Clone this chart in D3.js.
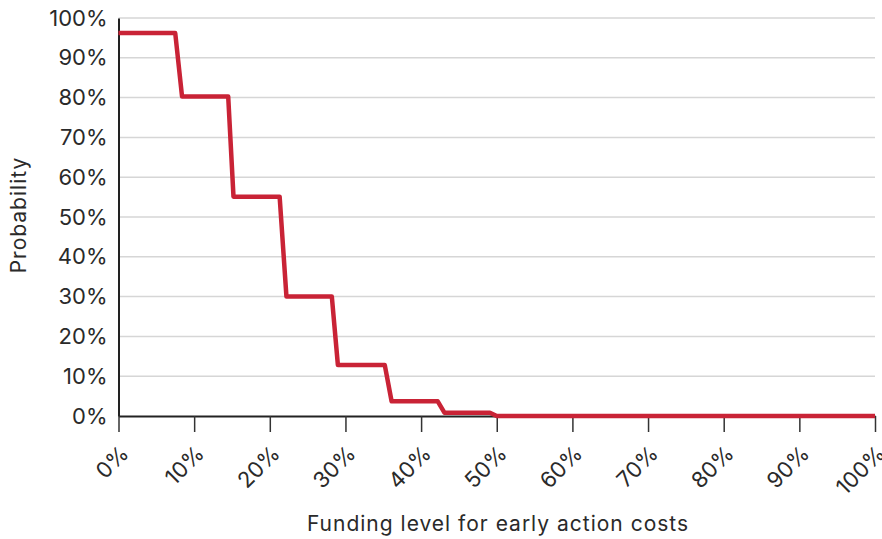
<!DOCTYPE html>
<html><head><meta charset="utf-8">
<script src="https://cdn.jsdelivr.net/npm/d3@7"></script>
<style>body{margin:0;background:#fff;} svg{display:block;font-family:Inter, "Open Sans", sans-serif;}</style>
</head><body>
<svg id="c" width="882" height="539"></svg>
<script>
const fundingLevel = [0, 7.5, 8.4, 14.5, 15.2, 21.3, 22.2, 28.2, 29.0, 35.2, 36.1, 42.2, 43.1, 49.1, 50, 100];
const probability  = [96.2, 96.2, 80.3, 80.3, 55.1, 55.1, 30, 30, 12.8, 12.8, 3.7, 3.7, 0.8, 0.8, 0, 0];
const xTicks = [0,10,20,30,40,50,60,70,80,90,100];
const yTicks = [0,10,20,30,40,50,60,70,80,90,100];

const svg = d3.select("#c");
const x = d3.scaleLinear().domain([0,100]).range([118.5, 875]);
const y = d3.scaleLinear().domain([0,100]).range([416, 18]);
const FONT = "Inter";

svg.append("g").selectAll("line").data(yTicks.filter(d=>d>0)).join("line")
  .attr("x1", x(0)).attr("x2", x(100)).attr("y1", d=>y(d)).attr("y2", d=>y(d))
  .attr("stroke", "#d6d6d6").attr("stroke-width", 1.5);

const ya = svg.append("g").attr("transform", `translate(${x(0)},0)`)
  .call(d3.axisLeft(y).tickValues(yTicks).tickFormat(d=>d+"%").tickSize(0).tickPadding(11));
ya.select(".domain").attr("stroke", "#222").attr("stroke-width", 2);
ya.selectAll("text").attr("font-size", 22).attr("fill", "#2a2a2a").attr("font-family", FONT);

const xa = svg.append("g").attr("transform", `translate(0,${y(0)})`)
  .call(d3.axisBottom(x).tickValues(xTicks).tickFormat(d=>d+"%").tickSize(16).tickSizeOuter(0));
xa.select(".domain").attr("stroke", "#222").attr("stroke-width", 2);
xa.selectAll(".tick line").attr("stroke", "#333").attr("stroke-width", 1.5);
xa.selectAll("text").attr("font-size", 22).attr("fill", "#2a2a2a").attr("font-family", FONT)
  .attr("text-anchor", "end").attr("dy", null).attr("y", 0)
  .attr("transform", "translate(11,39) rotate(-45)");

const pts = fundingLevel.map((f,i)=>[f, probability[i]]);
svg.append("path").datum(pts)
  .attr("d", d3.line().x(d=>x(d[0])).y(d=>y(d[1])))
  .attr("fill", "none").attr("stroke", "#c92336").attr("stroke-width", 4.5)
  .attr("stroke-linejoin", "round");

svg.append("text").attr("x", 498).attr("y", 531).attr("text-anchor", "middle")
  .attr("font-size", 21).attr("letter-spacing", 1).attr("fill", "#2a2a2a").attr("font-family", FONT)
  .text("Funding level for early action costs");
svg.append("text").attr("transform", "translate(25.5,215) rotate(-90)").attr("text-anchor", "middle")
  .attr("font-size", 21).attr("letter-spacing", 1).attr("fill", "#2a2a2a").attr("font-family", FONT)
  .text("Probability");
</script>
</body></html>
